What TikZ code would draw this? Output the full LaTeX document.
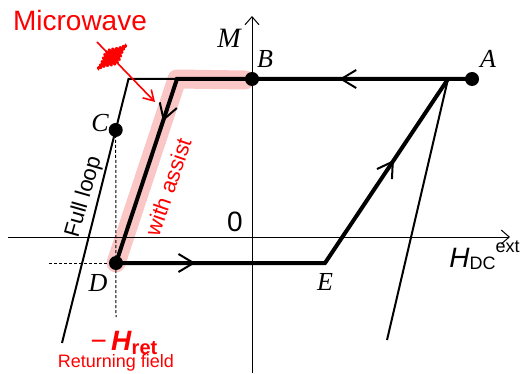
\documentclass[tikz,border=0pt]{standalone}
\usepackage{fontspec}
\setmainfont{Liberation Sans}
\newfontfamily\tnr{Liberation Serif}
\usetikzlibrary{arrows.meta,decorations.markings}
\definecolor{mwred}{RGB}{255,0,0}
\definecolor{blush}{RGB}{250,198,198}

\begin{document}
\begin{tikzpicture}[x=0.5pt,y=-0.5pt,axis/.style={line width=0.5pt,-{Straight Barb[length=4pt,width=7pt]}},thinloop/.style={line width=1pt,line join=miter},thickloop/.style={line width=2pt,line join=miter},blob/.style={circle,fill=black,inner sep=0pt,minimum size=7pt},ptlbl/.style={font=\fontsize{13}{13}\selectfont\tnr\itshape,anchor=base,inner sep=0pt},flow/.style={decoration={markings,mark=at position #1 with {\arrow{Straight Barb[length=7.5pt,width=9pt,line width=1pt]}}},postaction=decorate},band/.style={draw=blush,line width=9.5pt,line cap=round,line join=round},redtxt/.style={text=mwred,inner sep=0pt}]
\useasboundingbox (0,0) rectangle (522,373);
\coordinate (K) at (177,79);
\coordinate (R) at (448,79);
\coordinate (E) at (325,263);
\coordinate (Lc) at (128.5,79);
\coordinate (Lb) at (62,343);
\coordinate (Rb) at (387,340);
\draw[band] (116,263) -- (K) -- (245,80);
\draw[axis] (252,373) -- (252,16);
\draw[axis] (8,237) -- (510,237);
\node[blob] (A) at (472,79) {};
\node[blob] (B) at (252,79) {};
\node[blob] (C) at (115.7,130) {};
\node[blob] (D) at (116,263) {};
\draw[dash pattern=on 1.5pt off 1pt,line width=0.5pt] (C.center) -- (116,317);
\draw[dash pattern=on 1.5pt off 1pt,line width=0.5pt] (49,263) -- (D.center);
\draw[thinloop] (Lb) -- (Lc) -- (K);
\draw[thinloop] (R) -- (Rb);
\draw[thickloop] (A.center) -- (K) -- (D.center) -- (E) -- (R);
\path[flow=0.45] (A.center) -- (K);
\path[flow=0.23] (K) -- (D.center);
\path[flow=0.38] (D.center) -- (E);
\path[flow=0.56] (E) -- (R);
\node[ptlbl] (Alb) at (488,68) {A};
\node[ptlbl] (Blb) at (265,68) {B};
\node[ptlbl] (Clb) at (100,132) {C};
\node[ptlbl] (Dlb) at (98,291) {D};
\node[ptlbl] (Elb) at (325,290) {E};
\node[ptlbl,font=\fontsize{14}{14}\selectfont\tnr\itshape] (Mlb) at (229,48) {M};
\node[anchor=base,inner sep=0pt,font=\fontsize{14}{14}\selectfont] (zero) at (235,231) {0};
\node[anchor=base west,inner sep=0pt,font=\fontsize{14}{14}\selectfont] (Hlb) at (449,267) {\textit{H}\raisebox{-1pt}{\fontsize{9}{9}\selectfont DC}\raisebox{7.5pt}{\fontsize{9}{9}\selectfont ext}};
\node[rotate=74,inner sep=0pt,font=\fontsize{11}{11}\selectfont] (full) at (84,197) {Full loop};
\node[redtxt,rotate=71,font=\fontsize{11}{11}\selectfont] (assist) at (168,187) {with assist};
\node[redtxt,anchor=base,font=\fontsize{14}{14}\selectfont] (mw) at (80,31) {Microwave};
\node[redtxt,anchor=base,font=\fontsize{14}{14}\selectfont] (hret) at (124,350) {−\hspace{2pt}\textbf{\textit{H}}\raisebox{-2pt}{\fontsize{10}{10}\selectfont\bfseries ret}};
\node[redtxt,anchor=base,font=\fontsize{9}{9}\selectfont] (retf) at (116,367) {Returning field};
\coordinate (mwA) at (97,42);
\coordinate (mwB) at (155,102);
\draw[mwred,line width=0.8pt,-{Straight Barb[length=5pt,width=6pt]}] (mwA) -- (mwB);
\draw[mwred,line width=1.2pt,line join=round,shift={(112,57)},rotate=40] plot[domain=-19:19,samples=200] (\x,{8*exp(-(\x/11)*(\x/11))*sin(110*\x)});
\end{tikzpicture}
\end{document}
